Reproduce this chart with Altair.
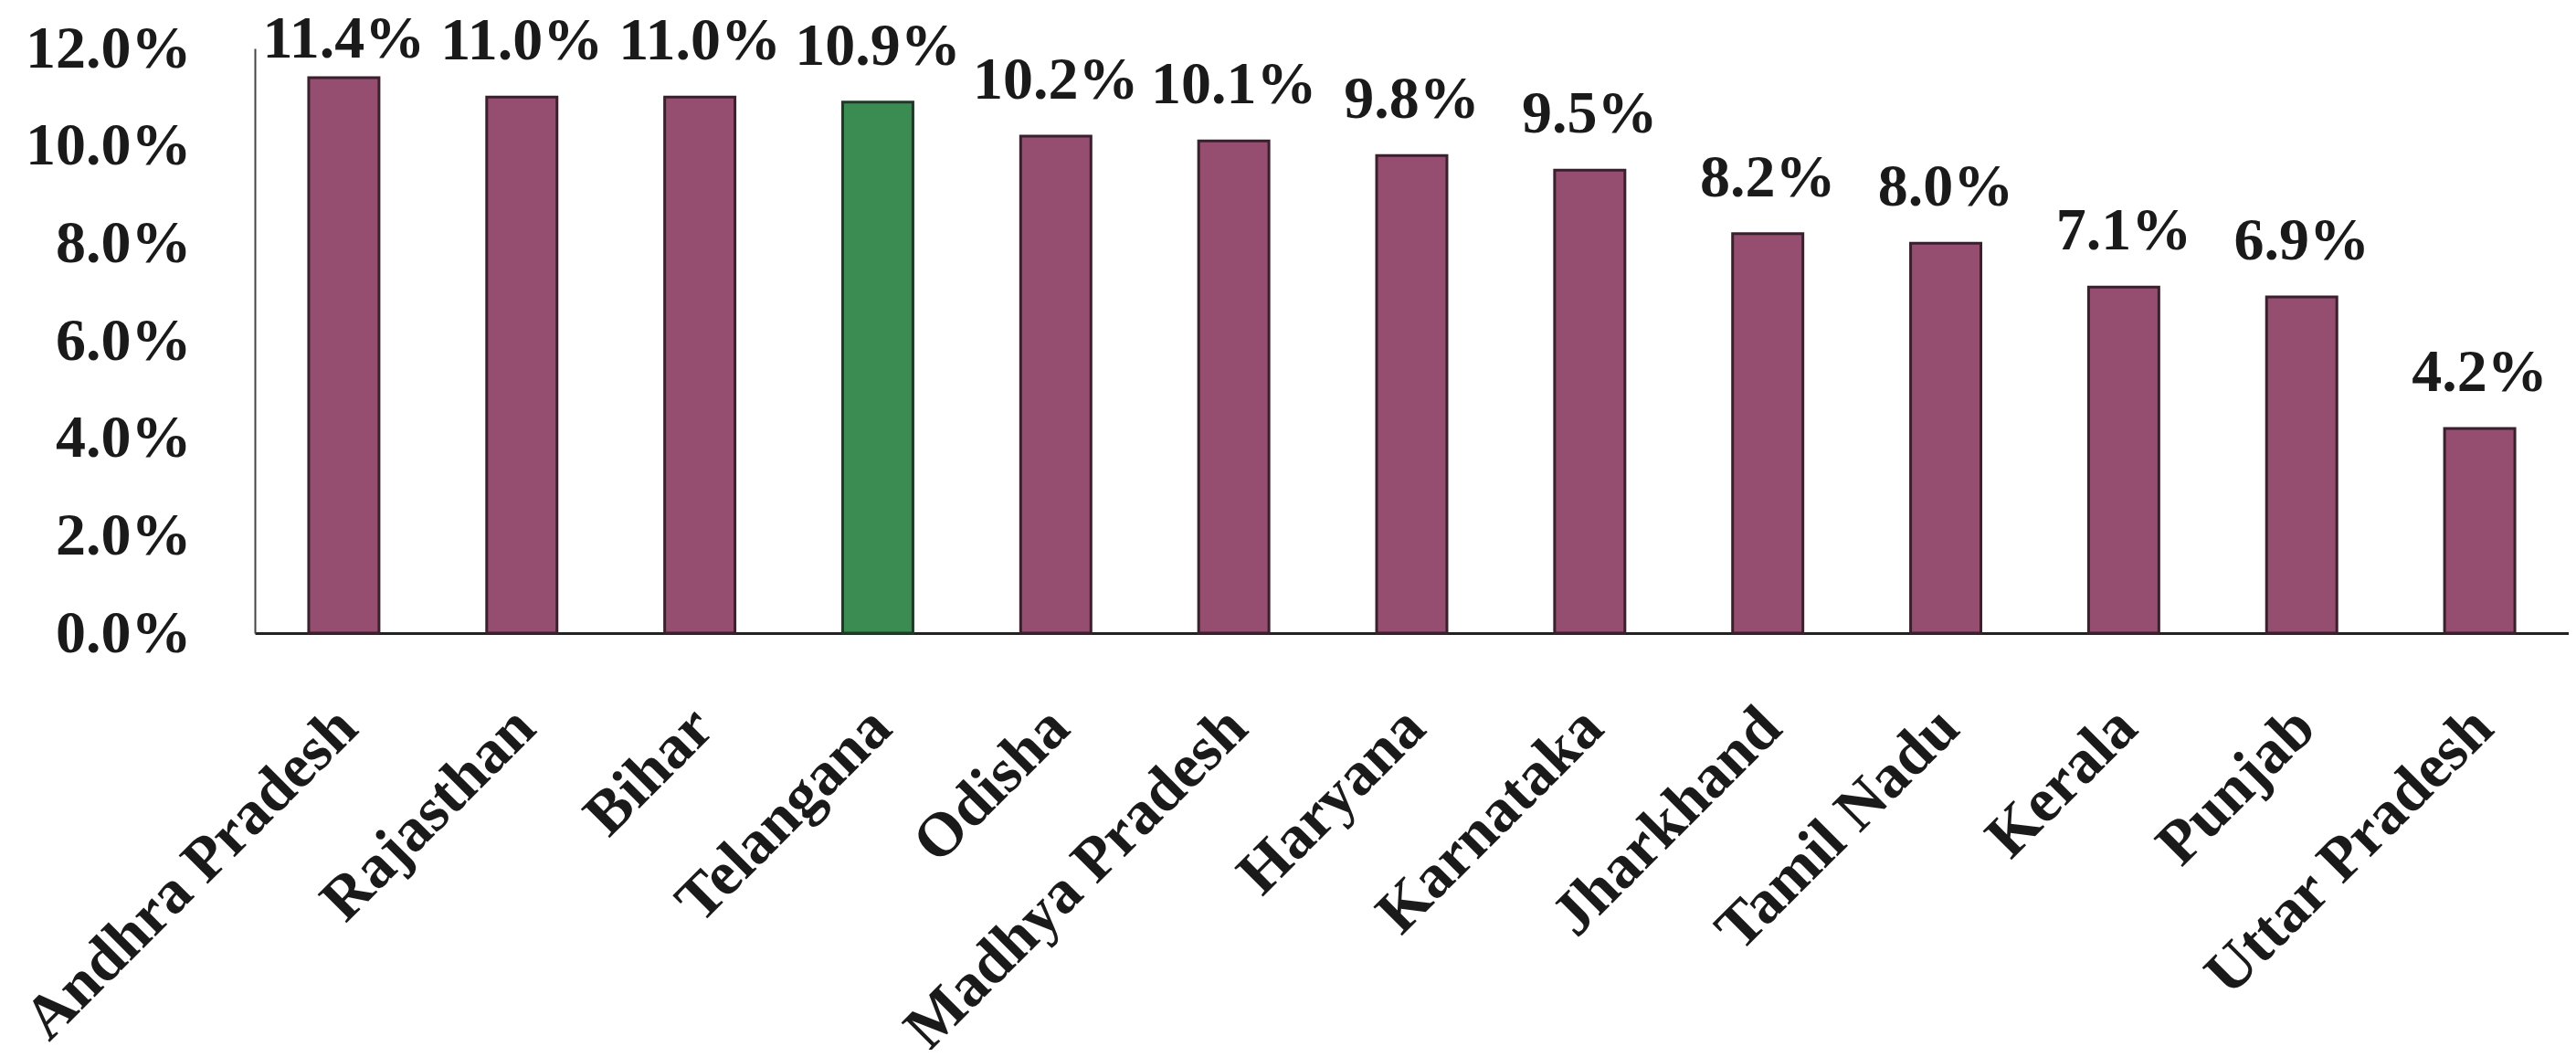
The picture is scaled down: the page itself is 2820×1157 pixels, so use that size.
import altair as alt
import pandas as pd

states = ["Andhra Pradesh", "Rajasthan", "Bihar", "Telangana", "Odisha",
          "Madhya Pradesh", "Haryana", "Karnataka", "Jharkhand", "Tamil Nadu",
          "Kerala", "Punjab", "Uttar Pradesh"]
values = [11.4, 11.0, 11.0, 10.9, 10.2, 10.1, 9.8, 9.5, 8.2, 8.0, 7.1, 6.9, 4.2]
highlight = ["Telangana"]
y_ticks = [0, 2, 4, 6, 8, 10, 12]

df = pd.DataFrame({"state": states, "value": values})
df["group"] = ["hi" if s in highlight else "base" for s in states]

FONT = "Liberation Serif"

x_enc = alt.X("state:N", sort=states, title=None,
              scale=alt.Scale(paddingInner=0.605, paddingOuter=0.3025),
              axis=alt.Axis(labelAngle=-45, labelAlign="right", labelBaseline="alphabetic",
                            labelPadding=107, labelOffset=18, ticks=False, labelLimit=0,
                            labelOverlap=False,
                            labelFont=FONT, labelFontSize=68, labelFontWeight="bold",
                            labelColor="#1a1a1a", domainColor="#222222", domainWidth=3,
                            grid=False))

y_scale = alt.Scale(domain=[0, 12], nice=False)

bars = alt.Chart(df).mark_bar(strokeWidth=3).encode(
    x=x_enc,
    y=alt.Y("value:Q", scale=y_scale, title=None,
            axis=alt.Axis(values=y_ticks, labelExpr="format(datum.value, '.1f') + '%'",
                          ticks=False, grid=False, labelPadding=70, labelLimit=0,
                          labelFont=FONT, labelFontSize=66, labelFontWeight="bold",
                          labelColor="#1a1a1a", domainColor="#444444", domainWidth=2)),
    color=alt.Color("group:N", legend=None,
                    scale=alt.Scale(domain=["base", "hi"], range=["#954E70", "#3A8C52"])),
    stroke=alt.Stroke("group:N", legend=None,
                      scale=alt.Scale(domain=["base", "hi"], range=["#3A1F2D", "#1E3A26"])),
)

labels = alt.Chart(df).transform_calculate(
    label="format(datum.value, '.1f') + '%'",
    pos="min(datum.value, 11.05)",
).mark_text(font=FONT, fontSize=66, fontWeight="bold", color="#1a1a1a",
            baseline="alphabetic", dy=-41).encode(
    x=alt.X("state:N", sort=states),
    y=alt.Y("pos:Q", scale=y_scale),
    text="label:N",
)

chart = alt.layer(bars, labels).properties(
    width=2533, height=640,
    autosize=alt.AutoSizeParams(type="none"),
    padding={"left": 271, "top": 45, "right": 0, "bottom": 456},
    background="white",
).configure_view(stroke=None)

chart.save("out.html", embed_options={"renderer": "svg", "actions": False})
